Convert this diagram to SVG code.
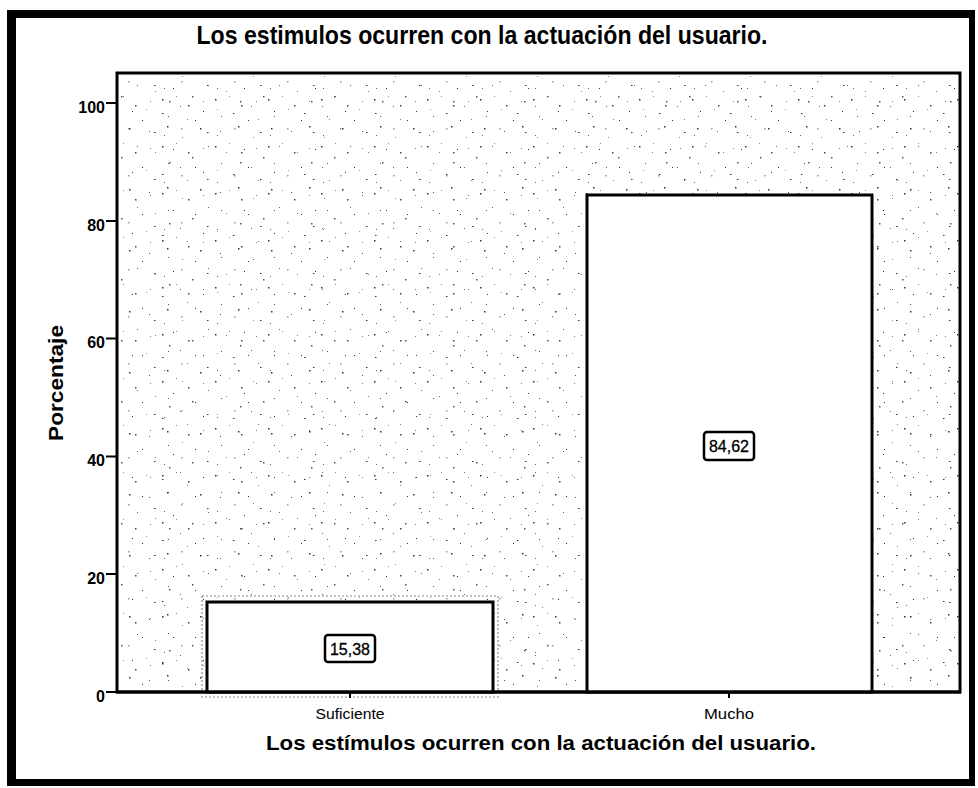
<svg xmlns="http://www.w3.org/2000/svg" width="978" height="788" viewBox="0 0 978 788">
  <style>
    .t { font-family: "Liberation Sans", Arial, sans-serif; fill: #000; }
    .title { font-size: 25px; font-weight: bold; }
    .axt { font-size: 20px; font-weight: bold; }
    .tick { font-size: 16px; font-weight: bold; text-anchor: end; }
    .cat { font-size: 14px; text-anchor: middle; }
    .val { font-size: 16px; text-anchor: middle; stroke: #000; stroke-width: 0.3; }
    .ln { stroke: #000; fill: none; }
    .bar { fill: #fff; stroke: #000; stroke-width: 3; }
    .vbox { fill: #fff; stroke: #000; stroke-width: 2.5; }
  </style>
  <defs>
    <pattern id="dotsA" width="53" height="47" patternUnits="userSpaceOnUse">
      <rect x="3" y="5" width="1.5" height="1.5" fill="#333"/>
      <rect x="17" y="2" width="1" height="1" fill="#888"/>
      <rect x="29" y="11" width="1.5" height="1.5" fill="#444"/>
      <rect x="44" y="7" width="1" height="1" fill="#777"/>
      <rect x="9" y="22" width="1" height="1" fill="#555"/>
      <rect x="36" y="26" width="1" height="1" fill="#333"/>
      <rect x="22" y="34" width="1.5" height="1.5" fill="#999"/>
      <rect x="48" y="38" width="1.5" height="1" fill="#333"/>
      <rect x="5" y="41" width="1" height="1" fill="#666"/>
    </pattern>
    <pattern id="dotsB" width="71" height="61" patternUnits="userSpaceOnUse">
      <rect x="7" y="9" width="1" height="1" fill="#555"/>
      <rect x="25" y="4" width="1.5" height="1.5" fill="#333"/>
      <rect x="40" y="15" width="1" height="1" fill="#888"/>
      <rect x="58" y="6" width="1.5" height="1.5" fill="#333"/>
      <rect x="66" y="24" width="1" height="1" fill="#666"/>
      <rect x="13" y="30" width="1" height="1" fill="#777"/>
      <rect x="31" y="27" width="1" height="1" fill="#333"/>
      <rect x="50" y="35" width="1.5" height="1.5" fill="#555"/>
      <rect x="4" y="48" width="1" height="1" fill="#999"/>
      <rect x="20" y="52" width="1.5" height="1" fill="#333"/>
      <rect x="38" y="45" width="1" height="1" fill="#666"/>
      <rect x="61" y="50" width="1" height="1" fill="#333"/>
      <rect x="45" y="58" width="1" height="1" fill="#777"/>
      <rect x="27" y="40" width="1.5" height="1.5" fill="#555"/>
    </pattern>
  </defs>

  <rect x="0" y="0" width="978" height="788" fill="#fff"/>

  <g id="frame" fill="#000">
    <rect x="7" y="10" width="968" height="8"/>
    <rect x="7" y="10" width="9" height="776"/>
    <rect x="7" y="779" width="968" height="7"/>
    <rect x="969" y="10" width="6" height="776"/>
  </g>

  <g id="chart-title">
    <text class="t title" x="482" y="44" textLength="571" lengthAdjust="spacingAndGlyphs" text-anchor="middle">Los estimulos ocurren con la actuación del usuario.</text>
  </g>

  <g id="plot-area">
    <rect x="117" y="73" width="843" height="619" fill="#fff"/>
    <rect x="117" y="73" width="843" height="619" fill="url(#dotsA)"/>
    <rect x="117" y="73" width="843" height="619" fill="url(#dotsB)"/>
    <rect x="117" y="73" width="843" height="619" class="ln" stroke-width="3"/>
  </g>

  <g id="y-axis">
    <g class="ln" stroke-width="2">
      <line x1="106" y1="103" x2="117" y2="103"/>
      <line x1="106" y1="221" x2="117" y2="221"/>
      <line x1="106" y1="338.5" x2="117" y2="338.5"/>
      <line x1="106" y1="456.5" x2="117" y2="456.5"/>
      <line x1="106" y1="574" x2="117" y2="574"/>
      <line x1="106" y1="692" x2="117" y2="692"/>
    </g>
    <text class="t tick" x="105" y="113">100</text>
    <text class="t tick" x="105" y="231">80</text>
    <text class="t tick" x="105" y="348">60</text>
    <text class="t tick" x="105" y="466">40</text>
    <text class="t tick" x="105" y="584">20</text>
    <text class="t tick" x="105" y="702">0</text>
    <text class="t axt" transform="translate(63,383) rotate(-90)" text-anchor="middle" textLength="116" lengthAdjust="spacingAndGlyphs">Porcentaje</text>
  </g>

  <g id="bar-suficiente">
    <rect x="202" y="596" width="296" height="101" fill="none" stroke="#888" stroke-width="1.2" stroke-dasharray="2 2"/>
    <rect class="bar" x="207" y="602" width="286" height="90"/>
    <rect class="vbox" x="325" y="635" width="50" height="27" rx="3"/>
    <text class="t val" x="350" y="654.5">15,38</text>
  </g>

  <g id="bar-mucho">
    <rect class="bar" x="587" y="195" width="285" height="497"/>
    <rect class="vbox" x="704" y="432" width="50" height="28" rx="3"/>
    <text class="t val" x="729" y="452">84,62</text>
  </g>

  <g id="x-axis">
    <line class="ln" x1="116" y1="692" x2="961" y2="692" stroke-width="3"/>
    <line class="ln" x1="350" y1="692" x2="350" y2="698" stroke-width="2"/>
    <line class="ln" x1="729" y1="692" x2="729" y2="698" stroke-width="2"/>
    <text class="t cat" x="350" y="719" textLength="69" lengthAdjust="spacingAndGlyphs">Suficiente</text>
    <text class="t cat" x="729" y="719" textLength="50" lengthAdjust="spacingAndGlyphs">Mucho</text>
    <text class="t axt" x="541" y="750" text-anchor="middle" textLength="550" lengthAdjust="spacingAndGlyphs">Los estímulos ocurren con la actuación del usuario.</text>
  </g>
</svg>
